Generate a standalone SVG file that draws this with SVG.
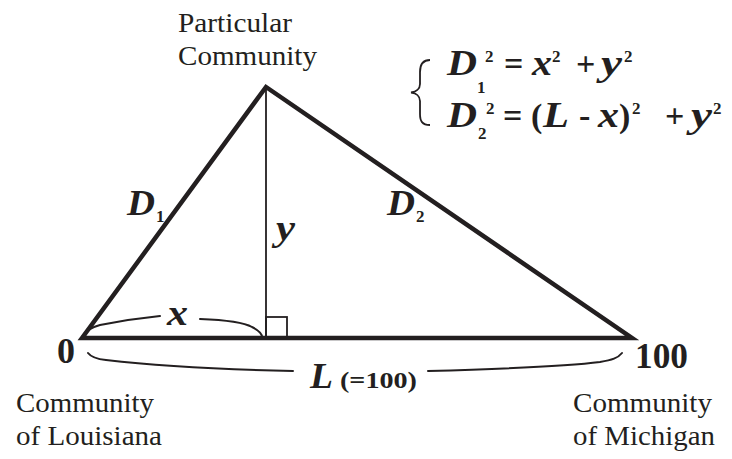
<svg xmlns="http://www.w3.org/2000/svg" width="732" height="459" viewBox="0 0 732 459">
<style>
.lbl{font-size:28px}
.num{font-size:35px;font-weight:bold}
.var{font-size:36px;font-weight:bold;font-style:italic}
.op{font-size:34px;font-weight:bold}
.sup{font-size:17px;font-weight:bold}
.thick{stroke:#231f20;stroke-width:4.5;fill:none;stroke-linecap:round;stroke-linejoin:miter}
.thin{stroke:#231f20;stroke-width:1.8;fill:none}
.brace{stroke:#231f20;stroke-width:2;fill:none;stroke-linecap:round}
</style>
<rect width="732" height="459" fill="#fff"/>
<g id="connectors">
  <path class="thick" d="M82,338 L266,87 L632,338 Z"/>
  <line class="thin" x1="266" y1="87" x2="266" y2="338"/>
  <rect class="thin" x="266" y="317" width="21" height="21"/>
</g>
<g id="apex">
  <text font-family="Liberation Serif" fill="#231f20" class="lbl" x="178" y="32" textLength="114" lengthAdjust="spacingAndGlyphs">Particular</text>
  <text font-family="Liberation Serif" fill="#231f20" class="lbl" x="178" y="65" textLength="139" lengthAdjust="spacingAndGlyphs">Community</text>
</g>
<g id="louisiana">
  <text font-family="Liberation Serif" fill="#231f20" class="num" x="57" y="363" textLength="18" lengthAdjust="spacingAndGlyphs">0</text>
  <text font-family="Liberation Serif" fill="#231f20" class="lbl" x="16" y="412" textLength="138" lengthAdjust="spacingAndGlyphs">Community</text>
  <text font-family="Liberation Serif" fill="#231f20" class="lbl" x="16" y="445" textLength="146" lengthAdjust="spacingAndGlyphs">of Louisiana</text>
</g>
<g id="michigan">
  <text font-family="Liberation Serif" fill="#231f20" class="num" x="635" y="368" textLength="53" lengthAdjust="spacingAndGlyphs">100</text>
  <text font-family="Liberation Serif" fill="#231f20" class="lbl" x="573" y="412" textLength="139" lengthAdjust="spacingAndGlyphs">Community</text>
  <text font-family="Liberation Serif" fill="#231f20" class="lbl" x="573" y="445" textLength="142" lengthAdjust="spacingAndGlyphs">of Michigan</text>
</g>
<g id="side-labels">
  <text font-family="Liberation Serif" fill="#231f20" class="var" x="127" y="215" font-size="34" textLength="28" lengthAdjust="spacingAndGlyphs">D</text>
  <text font-family="Liberation Serif" fill="#231f20" class="sup" x="156" y="222" font-size="15">1</text>
  <text font-family="Liberation Serif" fill="#231f20" class="var" x="387" y="215" font-size="34" textLength="28" lengthAdjust="spacingAndGlyphs">D</text>
  <text font-family="Liberation Serif" fill="#231f20" class="sup" x="416" y="222" font-size="15">2</text>
  <text font-family="Liberation Serif" fill="#231f20" class="var" x="276" y="240" textLength="19" lengthAdjust="spacingAndGlyphs">y</text>
  <text font-family="Liberation Serif" fill="#231f20" class="var" x="167" y="325" textLength="21" lengthAdjust="spacingAndGlyphs">x</text>
</g>
<g id="braces">
  <path class="brace" d="M82,337 C86,330 92,327 100,325 C120,321 140,318 160,316"/>
  <path class="brace" d="M200,319 C225,320 245,323 252,327 C258,330 262,333 262,337"/>
  <path class="brace" d="M88,353 C91,357 96,359 106,360 C140,364 200,369 293,371"/>
  <path class="brace" d="M428,371 C500,369 570,366 600,362 C612,360 618,358 622,353"/>
  <text font-family="Liberation Serif" fill="#231f20" class="var" x="310" y="388" font-size="37" textLength="23" lengthAdjust="spacingAndGlyphs">L</text>
  <text font-family="Liberation Serif" fill="#231f20" x="340" y="388" font-size="23" font-weight="bold" textLength="77" lengthAdjust="spacingAndGlyphs">(=100)</text>
</g>
<g id="formula">
  <path class="thin" d="M430,60 C422,60 420,65 420,72 L420,84 C420,89 416,92 411,92.5 C416,93 420,96 420,101 L420,114 C420,121 422,125 430,125"/>
  <text font-family="Liberation Serif" fill="#231f20" class="var" x="447" y="75" textLength="30" lengthAdjust="spacingAndGlyphs">D</text>
  <text font-family="Liberation Serif" fill="#231f20" class="sup" x="477" y="93">1</text>
  <text font-family="Liberation Serif" fill="#231f20" class="sup" x="485" y="62">2</text>
  <text font-family="Liberation Serif" fill="#231f20" class="op" x="504" y="75">=</text>
  <text font-family="Liberation Serif" fill="#231f20" class="var" x="532" y="75" textLength="20" lengthAdjust="spacingAndGlyphs">x</text>
  <text font-family="Liberation Serif" fill="#231f20" class="sup" x="552" y="62">2</text>
  <text font-family="Liberation Serif" fill="#231f20" class="op" x="576" y="75">+</text>
  <text font-family="Liberation Serif" fill="#231f20" class="var" x="601" y="75" textLength="21" lengthAdjust="spacingAndGlyphs">y</text>
  <text font-family="Liberation Serif" fill="#231f20" class="sup" x="624" y="62">2</text>
  <text font-family="Liberation Serif" fill="#231f20" class="var" x="447" y="127" textLength="30" lengthAdjust="spacingAndGlyphs">D</text>
  <text font-family="Liberation Serif" fill="#231f20" class="sup" x="478" y="139">2</text>
  <text font-family="Liberation Serif" fill="#231f20" class="sup" x="486" y="114">2</text>
  <text font-family="Liberation Serif" fill="#231f20" class="op" x="503" y="127">=</text>
  <text font-family="Liberation Serif" fill="#231f20" class="op" x="531" y="127">(</text>
  <text font-family="Liberation Serif" fill="#231f20" class="var" x="543" y="127" textLength="26" lengthAdjust="spacingAndGlyphs">L</text>
  <text font-family="Liberation Serif" fill="#231f20" class="op" x="579" y="127">-</text>
  <text font-family="Liberation Serif" fill="#231f20" class="var" x="598" y="127" textLength="21" lengthAdjust="spacingAndGlyphs">x</text>
  <text font-family="Liberation Serif" fill="#231f20" class="op" x="619" y="127">)</text>
  <text font-family="Liberation Serif" fill="#231f20" class="sup" x="632" y="114">2</text>
  <text font-family="Liberation Serif" fill="#231f20" class="op" x="665" y="127">+</text>
  <text font-family="Liberation Serif" fill="#231f20" class="var" x="691" y="127" textLength="21" lengthAdjust="spacingAndGlyphs">y</text>
  <text font-family="Liberation Serif" fill="#231f20" class="sup" x="713" y="114">2</text>
</g>
</svg>
